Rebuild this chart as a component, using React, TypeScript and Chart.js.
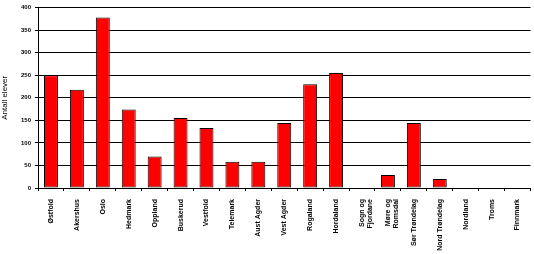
import React, { useEffect, useRef } from "react";
import { Chart, registerables } from "chart.js";

Chart.register(...registerables);

const categories: (string | string[])[] = [
  "Østfold",
  "Akershus",
  "Oslo",
  "Hedmark",
  "Oppland",
  "Buskerud",
  "Vestfold",
  "Telemark",
  "Aust Agder",
  "Vest Agder",
  "Rogaland",
  "Hordaland",
  ["Sogn og", "Fjordane"],
  ["Møre og", "Romsdal"],
  "Sør Trøndelag",
  "Nord Trøndelag",
  "Nordland",
  "Troms",
  "Finnmark",
];

const elever: number[] = [250, 218, 378, 174, 70, 155, 133, 58, 58, 144, 230, 255, 0, 29, 144, 20, 0, 0, 0];

const yTitle = "Antall elever";
const yMin = 0;
const yMax = 400;
const yStep = 50;

export default function App() {
  const ref = useRef<HTMLCanvasElement | null>(null);

  useEffect(() => {
    document.body.style.margin = "0";
    if (!ref.current) return;
    const font = "'Liberation Sans', Arial, sans-serif";
    const chart = new Chart(ref.current, {
      type: "bar",
      data: {
        labels: categories,
        datasets: [
          {
            label: yTitle,
            data: elever,
            backgroundColor: "#FF0000",
            borderColor: "#000000",
            borderWidth: 1,
            borderSkipped: false,
            barPercentage: 14 / 26,
            categoryPercentage: 1,
          },
        ],
      },
      options: {
        animation: false,
        responsive: true,
        maintainAspectRatio: false,
        layout: { padding: { top: 1, right: 2, bottom: 0, left: 0 } },
        plugins: {
          legend: { display: false },
          tooltip: { enabled: false },
        },
        scales: {
          x: {
            offset: true,
            grid: {
              offset: true,
              drawOnChartArea: false,
              drawTicks: true,
              tickLength: 3,
              color: "#000000",
              lineWidth: 1,
            },
            border: { display: true, color: "#000000", width: 1 },
            ticks: {
              autoSkip: false,
              maxRotation: 90,
              minRotation: 90,
              padding: 8,
              color: "#000000",
              font: { family: font, size: 7, weight: "bold" },
            },
            afterFit: (scale: any) => {
              scale.height = 66;
            },
          },
          y: {
            min: yMin,
            max: yMax,
            grid: {
              color: "#000000",
              lineWidth: 1,
              drawTicks: true,
              tickLength: 3,
            },
            border: { display: true, color: "#000000", width: 1 },
            ticks: {
              stepSize: yStep,
              padding: 4,
              color: "#000000",
              font: { family: font, size: 6, weight: "bold" },
            },
            title: {
              display: true,
              text: yTitle,
              color: "#000000",
              font: { family: font, size: 8 },
              padding: { top: 0, bottom: 0 },
            },
            afterFit: (scale: any) => {
              scale.width = 38;
            },
          },
        },
      },
    });
    return () => chart.destroy();
  }, []);

  return (
    <div style={{ position: "fixed", left: 0, top: 0, width: 534, height: 254, background: "#fff" }}>
      <canvas ref={ref} />
    </div>
  );
}
